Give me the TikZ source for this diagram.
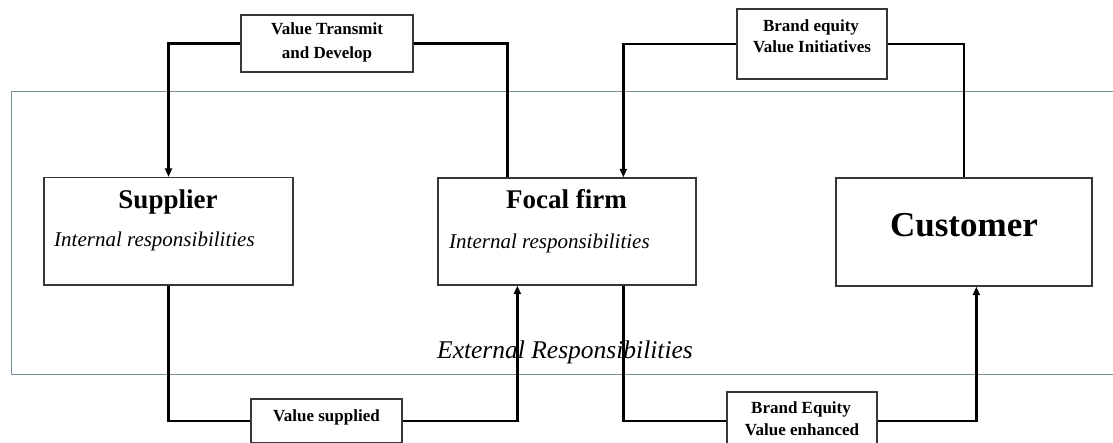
\documentclass[tikz,border=0pt]{standalone}
\usepackage{fontspec}
\setmainfont{Liberation Serif}
\usetikzlibrary{arrows.meta,calc}
\definecolor{slate}{RGB}{122,142,152}
\definecolor{boxline}{RGB}{55,55,55}
\begin{document}
\begin{tikzpicture}[x=1pt,y=-1pt,
  box/.style={draw=boxline,line width=1.3pt,fill=white,inner sep=0pt},
  conn/.style={draw=black,line width=2.3pt},
  arr/.style={conn,-{Triangle[length=8.5pt,width=7pt]}},
  title/.style={font=\fontsize{27}{30}\selectfont\bfseries,anchor=base,inner sep=0pt},
  inner/.style={font=\fontsize{21}{24}\selectfont\itshape,anchor=base west,inner sep=0pt},
  lbl/.style={font=\fontsize{17}{20}\selectfont\bfseries,anchor=base,inner sep=0pt}]
\clip (0,0) rectangle (1113,443);
\fill[white] (0,0) rectangle (1113,443);

% external responsibilities area
\node[draw=slate,line width=1pt,minimum width=1120pt,minimum height=282pt,inner sep=0pt,anchor=north west] (ext) at (10.7,91.5) {};
\node[font=\fontsize{25.5}{28}\selectfont\itshape,anchor=base,inner sep=0pt] (extlbl) at (565,358) {External Responsibilities};

% main actors
\node[box,minimum width=249pt,minimum height=107.5pt] (sup) at (168.5,231.3) {};
\node[box,minimum width=258pt,minimum height=107pt] (focal) at (567,231.5) {};
\node[box,minimum width=256pt,minimum height=108pt] (cust) at (964,232) {};

% flow labels
\node[box,minimum width=172pt,minimum height=57pt] (vtd) at (327,43.5) {};
\node[box,minimum width=150pt,minimum height=70pt] (bevi) at (812,44) {};
\node[box,minimum width=151pt,minimum height=44pt] (vs) at (326.5,421) {};
\node[box,minimum width=150pt,minimum height=58pt] (beve) at (802,421) {};

% connectors
\draw[arr] (vtd.west) -| (sup.north);
\draw[conn] (vtd.east) -| ($(focal.north west)+(70,0)$);
\draw[arr] (bevi.west) -| ($(focal.north west)+(186,0)$);
\draw[conn] (bevi.east) -| (cust.north);
\draw[conn] (sup.south) |- (vs.west);
\draw[arr] (vs.east) -| ($(focal.south west)+(80,0)$);
\draw[conn] ($(focal.south west)+(186,0)$) |- (beve.west);
\draw[arr] (beve.east) -| ($(cust.south west)+(141,0)$);

% redraw boxes above the connector ends
\node[box,minimum width=172pt,minimum height=57pt] at (327,43.5) {};
\node[box,minimum width=150pt,minimum height=70pt] at (812,44) {};
\node[box,minimum width=151pt,minimum height=44pt] at (326.5,421) {};
\node[box,minimum width=150pt,minimum height=58pt] at (802,421) {};

% texts
\node[title] (suptitle) at (168,209) {Supplier};
\node[inner] (supint) at (54,247) {Internal responsibilities};
\node[title] (focaltitle) at (566.5,209) {Focal firm};
\node[inner] (focalint) at (449,249) {Internal responsibilities};
\node[font=\fontsize{35}{38}\selectfont\bfseries,anchor=base,inner sep=0pt] (custtitle) at (964,237) {Customer};

\node[lbl] (vtdA) at (327,35) {Value Transmit};
\node[lbl] (vtdB) at (327,59) {and Develop};
\node[lbl] (beviA) at (811,32) {Brand equity};
\node[lbl] (beviB) at (812,53) {Value Initiatives};
\node[lbl] (vsA) at (326.5,421) {Value supplied};
\node[lbl] (beveA) at (801,413) {Brand Equity};
\node[lbl] (beveB) at (802,435) {Value enhanced};
\end{tikzpicture}
\end{document}
